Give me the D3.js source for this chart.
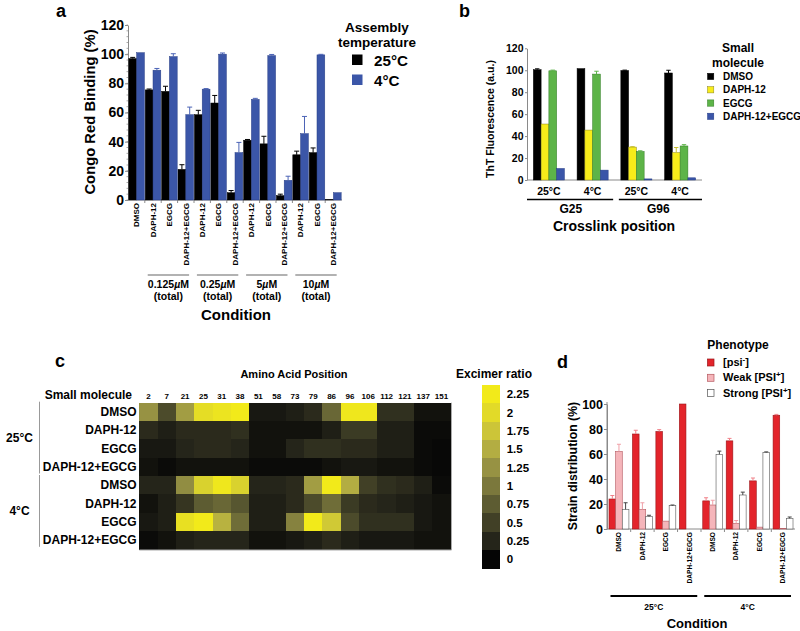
<!DOCTYPE html>
<html><head><meta charset="utf-8">
<script src="https://cdn.jsdelivr.net/npm/d3@7"></script>
<style>
body{margin:0;background:#fff}
svg{display:block}
text{font-family:"Liberation Sans",Arial,Helvetica,sans-serif;font-weight:bold;fill:#000}
</style>
</head><body>
<svg id="chart" width="800" height="631"></svg>
<script>
// ---------------- DATA ----------------
// Panel a
const aConditions = ["DMSO","DAPH-12","EGCG","DAPH-12+EGCG","DAPH-12","EGCG","DAPH-12+EGCG","DAPH-12","EGCG","DAPH-12+EGCG","DAPH-12","EGCG","DAPH-12+EGCG"];
const aConcGroups = [{label:"0.125", from:1, to:3},{label:"0.25", from:4, to:6},{label:"5", from:7, to:9},{label:"10", from:10, to:12}];
const a25 =    [97, 75.5, 74.5, 21, 58.5, 66.5, 5, 41, 38.5, 3, 31, 32.5, 0.3];
const a25Err = [0.8, 0.6, 3.5, 3.2, 3, 5.2, 1.5, 0.5, 5.2, 1, 2.5, 3.2, 0];
const a4 =     [101, 89, 98.3, 58.5, 76, 100, 32.5, 69, 99, 13.5, 45.5, 99.5, 5];
const a4Err =  [0, 1.2, 2, 5.2, 0.4, 0.8, 7, 0.7, 0.8, 2.8, 11.8, 0.4, 0];
const aTicks = [0,20,40,60,80,100,120];
const aLegend = ["25°C","4°C"];

// Panel b
const bGroups = ["25°C","4°C","25°C","4°C"];
const bCrosslinks = [{label:"G25", from:0, to:1},{label:"G96", from:2, to:3}];
const bMolecules = ["DMSO","DAPH-12","EGCG","DAPH-12+EGCG"];
const bDMSO =     [100.5, 101.5, 99.8, 97.5];
const bDMSOErr =  [0.8, 0, 0.3, 2.5];
const bDAPH =     [51, 45.5, 30, 25];
const bDAPHErr =  [0, 0, 0.4, 4.6];
const bEGCG =     [99.5, 96.5, 26, 31];
const bEGCGErr =  [0.6, 2.6, 0.6, 1.2];
const bBoth =     [10.5, 9, 1, 2];
const bBothErr =  [0, 0, 0, 0];
const bTicks = [0,20,40,60,80,100,120];

// Panel c
const cPositions = [2,7,21,25,31,38,51,58,73,79,86,96,106,112,121,137,151];
const cRows = ["DMSO","DAPH-12","EGCG","DAPH-12+EGCG","DMSO","DAPH-12","EGCG","DAPH-12+EGCG"];
const cTemps = [{label:"25°C", from:0, to:3},{label:"4°C", from:4, to:7}];
const cValues = [
  [1.25,0.6,1.35,2.05,2.15,2.25,0.15,0.15,0.2,0.3,0.85,2.2,2.2,0.35,0.35,0.1,0.1],
  [0.3,0.2,0.3,0.3,0.3,0.35,0.1,0.1,0.1,0.1,0.2,0.45,0.45,0.2,0.2,0.05,0.05],
  [0.15,0.15,0.25,0.3,0.3,0.25,0.1,0.1,0.25,0.35,0.35,0.3,0.3,0.2,0.2,0.05,0.02],
  [0.1,0.05,0.1,0.1,0.1,0.1,0.05,0.05,0.05,0.05,0.1,0.15,0.15,0.1,0.1,0.05,0.02],
  [0.25,0.25,1.2,1.9,2.2,1.9,0.25,0.25,0.3,1.35,2.25,1.5,0.5,0.35,0.3,0.2,0.05],
  [0.1,0.2,0.4,0.75,0.85,0.7,0.2,0.2,0.3,0.6,0.9,0.45,0.3,0.25,0.2,0.15,0.1],
  [0.15,0.2,2.1,2.25,1.55,0.9,0.2,0.2,1.1,2.25,1.8,0.6,0.35,0.35,0.35,0.15,0.1],
  [0.05,0.1,0.2,0.25,0.25,0.25,0.1,0.1,0.15,0.2,0.3,0.2,0.15,0.15,0.15,0.1,0.1]
];
const cLegendTicks = [2.25,2,1.75,1.5,1.25,1,0.75,0.5,0.25,0];

// Panel d
const dConditions = ["DMSO","DAPH-12","EGCG","DAPH-12+EGCG","DMSO","DAPH-12","EGCG","DAPH-12+EGCG"];
const dTemps = [{label:"25°C", from:0, to:3},{label:"4°C", from:4, to:7}];
const dPsiMinus =    [24, 76, 78, 100, 22.5, 70.5, 38.5, 91];
const dPsiMinusErr = [2.8, 3, 1.5, 0, 2.5, 2, 2.3, 0.7];
const dWeak =        [62, 15.7, 6.3, 0, 19.2, 4.5, 1.5, 0.3];
const dWeakErr =     [5.8, 5.3, 0, 0, 3.8, 2.3, 0, 0];
const dStrong =      [15.7, 9.9, 18.7, 0, 59.7, 27.2, 61.2, 8.5];
const dStrongErr =   [5.3, 1.1, 0.5, 0, 2.6, 2.3, 0.5, 1.1];
const dTicks = [0,20,40,60,80,100];

// ---------------- STYLE CONSTANTS ----------------
const FONT = '"Liberation Sans",Arial,Helvetica,sans-serif';
const AXIS_GRAY = "#8a8a8a";
const excimerRamp = ["#050505","#25251a","#414026","#5d5c32","#7b783c","#979243","#b3ad42","#ccc538","#e2da28","#f2ea1a"];

const svg = d3.select("#chart");

function txt(g, x, y, s, size, anchor) {
  return g.append("text").attr("x", x).attr("y", y).attr("font-size", size)
    .attr("text-anchor", anchor || "start").text(s);
}
function styleAxis(sel, size) {
  sel.select(".domain").attr("stroke", AXIS_GRAY).attr("stroke-width", 1);
  sel.selectAll(".tick line").attr("stroke", AXIS_GRAY);
  sel.selectAll(".tick text").attr("font-size", size).attr("font-family", FONT).attr("font-weight", "bold").attr("fill", "#000");
}
function errBar(g, cx, yTop, yErr, color, cap) {
  g.append("line").attr("x1", cx).attr("x2", cx).attr("y1", yTop).attr("y2", yErr).attr("stroke", color).attr("stroke-width", 1);
  g.append("line").attr("x1", cx - cap).attr("x2", cx + cap).attr("y1", yErr).attr("y2", yErr).attr("stroke", color).attr("stroke-width", 1);
}

// ================= PANEL A =================
(function() {
  const g = svg.append("g");
  const x = d3.scaleBand().domain(d3.range(aConditions.length)).range([128, 342]).paddingInner(0.05).paddingOuter(0.05);
  const y = d3.scaleLinear().domain([0, 120]).range([200, 25]);
  const inner = d3.scaleBand().domain([0, 1]).range([0, x.bandwidth()]);
  const series = [
    {vals: a25, err: a25Err, fill: "#000", stroke: "#000", ec: "#000"},
    {vals: a4, err: a4Err, fill: "#3b56a8", stroke: "#283f86", ec: "#4b63b6"}
  ];
  g.append("g").selectAll("line").data(d3.range(0, 121, 4)).join("line")
    .attr("x1", 126.5).attr("x2", 128).attr("y1", d => y(d)).attr("y2", d => y(d)).attr("stroke", "#aaa");
  const ya = g.append("g").attr("transform", "translate(128,0)")
    .call(d3.axisLeft(y).tickValues(aTicks).tickSize(3).tickSizeOuter(0).tickPadding(1));
  styleAxis(ya, 14);
  g.append("line").attr("x1", 128).attr("x2", 342).attr("y1", 200).attr("y2", 200).attr("stroke", AXIS_GRAY);
  g.append("g").selectAll("line").data(d3.range(1, aConditions.length)).join("line")
    .attr("x1", d => x(d) - x.step() * 0.025).attr("x2", d => x(d) - x.step() * 0.025)
    .attr("y1", 200).attr("y2", 203).attr("stroke", AXIS_GRAY);
  series.forEach((s, si) => {
    s.vals.forEach((v, i) => {
      const bx = x(i) + inner(si), bw = inner.bandwidth();
      g.append("rect").attr("x", bx).attr("y", y(v)).attr("width", bw).attr("height", Math.max(0, y(0) - y(v)))
        .attr("fill", s.fill).attr("stroke", s.stroke).attr("stroke-width", 0.5);
      if (s.err[i] > 0) errBar(g, bx + bw / 2, y(v), y(v + s.err[i]), s.ec, 2.5);
    });
  });
  aConditions.forEach((c, i) => {
    const cx = x(i) + x.bandwidth() / 2;
    g.append("text").attr("transform", `translate(${cx},203) rotate(-90)`).attr("dy", "0.35em")
      .attr("text-anchor", "end").attr("font-size", 8).text(c);
  });
  aConcGroups.forEach(cg => {
    const x1 = x(cg.from) + 2.5, x2 = x(cg.to) + x.bandwidth() - 4.5;
    g.append("line").attr("x1", x1).attr("x2", x2).attr("y1", 275).attr("y2", 275).attr("stroke", "#999").attr("stroke-width", 1.5);
    const t = g.append("text").attr("x", (x1 + x2) / 2).attr("y", 288).attr("font-size", 10.5).attr("text-anchor", "middle");
    t.append("tspan").text(cg.label);
    t.append("tspan").attr("font-style", "italic").text("µ");
    t.append("tspan").text("M");
    txt(g, (x1 + x2) / 2, 300, "(total)", 10.5, "middle");
  });
  txt(g, 236, 320, "Condition", 15, "middle");
  g.append("text").attr("transform", "translate(95,112) rotate(-90)").attr("text-anchor", "middle")
    .attr("font-size", 14.8).text("Congo Red Binding (%)");
  txt(g, 56, 17, "a", 18);
  txt(g, 377, 32, "Assembly", 13.5, "middle");
  txt(g, 377, 46.5, "temperature", 13.5, "middle");
  [{c: "#000"}, {c: "#3b56a8"}].forEach((d, i) => {
    g.append("rect").attr("x", 352).attr("y", 54.5 + i * 20).attr("width", 10.5).attr("height", 10.5).attr("fill", d.c);
    txt(g, 374, 65.5 + i * 20, aLegend[i], 15.2);
  });
})();

// ================= PANEL B =================
(function() {
  const g = svg.append("g");
  const x = d3.scaleBand().domain(d3.range(bGroups.length)).range([527, 702]).paddingInner(0.29).paddingOuter(0.145);
  const y = d3.scaleLinear().domain([0, 120]).range([180, 48.3]);
  const inner = d3.scaleBand().domain(d3.range(4)).range([0, x.bandwidth()]);
  const series = [
    {vals: bDMSO, err: bDMSOErr, fill: "#000", stroke: "#000", ec: "#000"},
    {vals: bDAPH, err: bDAPHErr, fill: "#f7ec1a", stroke: "#8c8420", ec: "#c9c030"},
    {vals: bEGCG, err: bEGCGErr, fill: "#5db448", stroke: "#2f7a22", ec: "#5db448"},
    {vals: bBoth, err: bBothErr, fill: "#3a55a8", stroke: "#243c86", ec: "#3a55a8"}
  ];
  const ya = g.append("g").attr("transform", "translate(527,0)")
    .call(d3.axisLeft(y).tickValues(bTicks).tickSize(2).tickSizeOuter(0).tickPadding(1.5));
  styleAxis(ya, 10.5);
  g.append("line").attr("x1", 527).attr("x2", 702).attr("y1", 180).attr("y2", 180).attr("stroke", AXIS_GRAY);
  series.forEach((s, si) => {
    s.vals.forEach((v, i) => {
      const bx = x(i) + inner(si), bw = inner.bandwidth();
      g.append("rect").attr("x", bx).attr("y", y(v)).attr("width", bw).attr("height", Math.max(0, y(0) - y(v)))
        .attr("fill", s.fill).attr("stroke", s.stroke).attr("stroke-width", 0.5);
      if (s.err[i] > 0) errBar(g, bx + bw / 2, y(v), y(v + s.err[i]), s.ec, 2.2);
    });
  });
  bGroups.forEach((gr, i) => txt(g, x(i) + x.bandwidth() / 2, 195, gr, 10.5, "middle"));
  bCrosslinks.forEach((cl, k) => {
    const x1 = k === 0 ? 527 : x(cl.from) - 2, x2 = k === 0 ? x(cl.to) + x.bandwidth() + 5 : 702;
    g.append("line").attr("x1", x1).attr("x2", x2).attr("y1", 199.5).attr("y2", 199.5).attr("stroke", "#000").attr("stroke-width", 1.5);
    txt(g, (x(cl.from) + x(cl.to) + x.bandwidth()) / 2, 213, cl.label, 12, "middle");
  });
  txt(g, 614, 231, "Crosslink position", 14, "middle");
  g.append("text").attr("transform", "translate(494,119) rotate(-90)").attr("text-anchor", "middle")
    .attr("font-size", 10.5).text("ThT Fluorescence (a.u.)");
  txt(g, 459, 17, "b", 18);
  txt(g, 738, 52.3, "Small", 12, "middle");
  txt(g, 738, 66.5, "molecule", 12, "middle");
  bMolecules.forEach((m, i) => {
    g.append("rect").attr("x", 707.5).attr("y", 73.3 + i * 13.3).attr("width", 6.3).attr("height", 6.3)
      .attr("fill", series[i].fill).attr("stroke", series[i].stroke).attr("stroke-width", 0.5);
    txt(g, 723, 80 + i * 13.3, m, 10);
  });
})();

// ================= PANEL C =================
(function() {
  const g = svg.append("g");
  const x = d3.scaleBand().domain(cPositions).range([139.3, 450.7]);
  const y = d3.scaleBand().domain(d3.range(cRows.length)).range([402.7, 549.3]);
  const color = d3.scaleLinear().domain(d3.range(0, 2.26, 0.25)).range(excimerRamp).clamp(true);
  const cells = g.append("g").attr("shape-rendering", "crispEdges");
  cValues.forEach((row, r) => {
    row.forEach((v, c) => {
      cells.append("rect").attr("x", x(cPositions[c])).attr("y", y(r)).attr("width", x.bandwidth() + 1).attr("height", y.bandwidth() + 1)
        .attr("fill", color(v));
    });
  });
  g.append("line").attr("x1", 139.3).attr("x2", 451.5).attr("y1", 550).attr("y2", 550).attr("stroke", "#aaa");
  g.append("line").attr("x1", 451.5).attr("x2", 451.5).attr("y1", 402.7).attr("y2", 550).attr("stroke", "#aaa");
  cPositions.forEach(p => txt(g, x(p) + x.bandwidth() / 2, 399, String(p), 8, "middle"));
  cRows.forEach((rl, r) => txt(g, 136.5, y(r) + y.bandwidth() / 2 + 4.2, rl, 12, "end"));
  cTemps.forEach(t => {
    const y1 = y(t.from) - 1, y2 = y(t.to) + y.bandwidth() - 2.5;
    g.append("line").attr("x1", 39.5).attr("x2", 39.5).attr("y1", y1).attr("y2", y2).attr("stroke", "#999").attr("stroke-width", 1);
    txt(g, 19.5, (y1 + y2) / 2 + 4.3, t.label, 12, "middle");
  });
  txt(g, 294, 378, "Amino Acid Position", 11, "middle");
  txt(g, 132, 398.5, "Small molecule", 12, "end");
  txt(g, 55, 367, "c", 18);
  const ly = d3.scaleBand().domain(cLegendTicks).range([385, 568.3]);
  txt(g, 494, 378, "Excimer ratio", 12, "middle");
  const bar = g.append("g").attr("shape-rendering", "crispEdges");
  cLegendTicks.forEach(v => {
    bar.append("rect").attr("x", 482.3).attr("y", ly(v)).attr("width", 17.7).attr("height", ly.bandwidth() + 1).attr("fill", color(v));
    txt(g, 506.7, ly(v) + ly.bandwidth() / 2 + 4.2, String(v), 11.5);
  });
})();

// ================= PANEL D =================
(function() {
  const g = svg.append("g");
  const x = d3.scaleBand().domain(d3.range(dConditions.length)).range([607, 795]).paddingInner(0.15).paddingOuter(0.085);
  const y = d3.scaleLinear().domain([0, 100]).range([529, 404]);
  const inner = d3.scaleBand().domain(d3.range(3)).range([0, x.bandwidth()]);
  const series = [
    {vals: dPsiMinus, err: dPsiMinusErr, fill: "#e3242b", stroke: "#9a1418", ec: "#f08088"},
    {vals: dWeak, err: dWeakErr, fill: "#f5b5ba", stroke: "#b4585f", ec: "#f0a0a8"},
    {vals: dStrong, err: dStrongErr, fill: "#ffffff", stroke: "#555", ec: "#444"}
  ];
  g.append("line").attr("x1", 607).attr("x2", 607).attr("y1", 529).attr("y2", 402).attr("stroke", AXIS_GRAY);
  const ya = g.append("g").attr("transform", "translate(607,0)")
    .call(d3.axisLeft(y).tickValues(dTicks).tickSize(3).tickSizeOuter(0).tickPadding(1));
  styleAxis(ya, 12.5);
  g.append("line").attr("x1", 607).attr("x2", 795).attr("y1", 529).attr("y2", 529).attr("stroke", AXIS_GRAY);
  g.append("g").selectAll("line").data(d3.range(1, dConditions.length)).join("line")
    .attr("x1", d => x(d) - x.step() * 0.075).attr("x2", d => x(d) - x.step() * 0.075)
    .attr("y1", 529).attr("y2", 532).attr("stroke", AXIS_GRAY);
  series.forEach((s, si) => {
    s.vals.forEach((v, i) => {
      if (v <= 0) return;
      const bx = x(i) + inner(si), bw = inner.bandwidth();
      g.append("rect").attr("x", bx).attr("y", y(v)).attr("width", bw).attr("height", Math.max(0, y(0) - y(v)))
        .attr("fill", s.fill).attr("stroke", s.stroke).attr("stroke-width", 0.6);
      if (s.err[i] > 0) errBar(g, bx + bw / 2, y(v), y(v + s.err[i]), s.ec, 2);
    });
  });
  dConditions.forEach((c, i) => {
    const cx = x(i) + x.bandwidth() / 2;
    g.append("text").attr("transform", `translate(${cx},532) rotate(-90)`).attr("dy", "0.35em")
      .attr("text-anchor", "end").attr("font-size", 6.6).text(c);
  });
  dTemps.forEach(t => {
    const x1 = x(t.from) + 1.5, x2 = x(t.to) + x.bandwidth() - 2;
    g.append("line").attr("x1", x1).attr("x2", x2).attr("y1", 596).attr("y2", 596).attr("stroke", "#000").attr("stroke-width", 2);
    txt(g, (x1 + x2) / 2, 610, t.label, 8.5, "middle");
  });
  txt(g, 697, 628, "Condition", 13, "middle");
  g.append("text").attr("transform", "translate(577,466) rotate(-90)").attr("text-anchor", "middle")
    .attr("font-size", 12.3).text("Strain distribution (%)");
  txt(g, 557, 368, "d", 18);
  txt(g, 738, 349, "Phenotype", 12, "middle");
  const labels = [["[psi", "-", "]"], ["Weak [PSI", "+", "]"], ["Strong [PSI", "+", "]"]];
  labels.forEach((l, i) => {
    g.append("rect").attr("x", 707.5).attr("y", 359 + i * 15.3).attr("width", 6.5).attr("height", 7)
      .attr("fill", series[i].fill).attr("stroke", series[i].stroke).attr("stroke-width", 0.7);
    const t = g.append("text").attr("x", 723).attr("y", 366 + i * 15.3).attr("font-size", 11);
    t.append("tspan").text(l[0]);
    t.append("tspan").attr("dy", -4).attr("font-size", 8).text(l[1]);
    t.append("tspan").attr("dy", 4).text(l[2]);
  });
})();
</script>
</body></html>
